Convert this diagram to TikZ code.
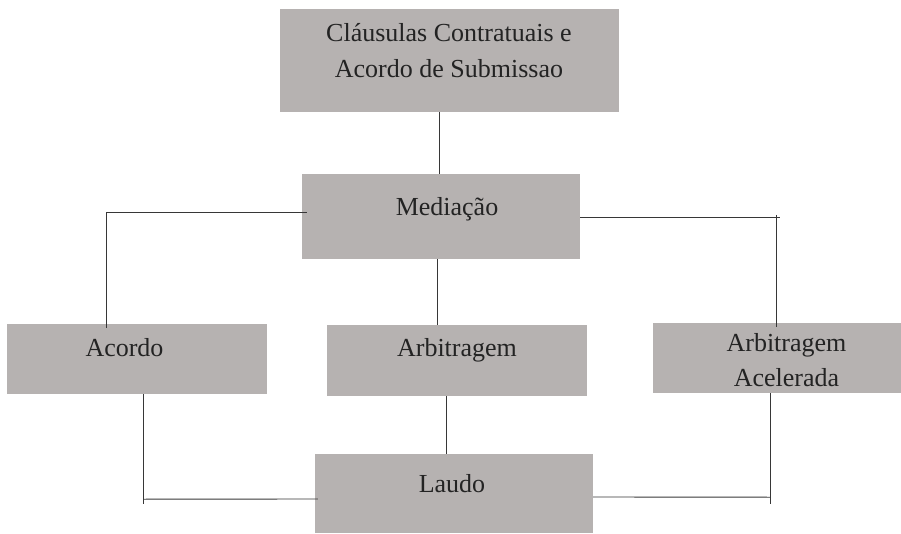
\documentclass[tikz,border=0pt]{standalone}
\usepackage{fontspec}
\setmainfont{Liberation Serif}
\usetikzlibrary{calc}
\definecolor{boxgray}{RGB}{182,178,177}
\definecolor{linegray}{RGB}{55,55,55}
\definecolor{textgray}{RGB}{35,35,35}
\begin{document}
\begin{tikzpicture}[x=1pt,y=-1pt,
  box/.style={fill=boxgray,draw=none,inner sep=0pt,rectangle},
  lbl/.style={anchor=base,inner sep=0pt,text=textgray,
    font=\fontsize{26}{35.5}\selectfont},
  conn/.style={draw=linegray,line width=0.9pt}]
\useasboundingbox (0,0) rectangle (901,534);

% boxes
\node[box,minimum width=339pt,minimum height=103pt] (top)    at (449.5,60.5) {};
\node[box,minimum width=278pt,minimum height=85pt]  (med)    at (441,216.5) {};
\node[box,minimum width=260pt,minimum height=70pt]  (acordo) at (137,359) {};
\node[box,minimum width=260pt,minimum height=71pt]  (arb)    at (457,360.5) {};
\node[box,minimum width=248pt,minimum height=70pt]  (acel)   at (777,358) {};
\node[box,minimum width=278pt,minimum height=79pt]  (laudo)  at (454,493.5) {};

% labels
\node[lbl] (topT) at (449,42) {\renewcommand\arraystretch{1}\setlength\tabcolsep{0pt}%
  \begin{tabular}[t]{c}Cláusulas Contratuais e\\Acordo de Submissao\end{tabular}};
\node[lbl] (medT)    at (447,216) {Mediação};
\node[lbl] (acordoT) at (124.5,356) {Acordo};
\node[lbl] (arbT)    at (457,356) {Arbitragem};
\node[lbl] (acelT)   at (786.5,351) {\renewcommand\arraystretch{1}\setlength\tabcolsep{0pt}%
  \begin{tabular}[t]{c}Arbitragem\\Acelerada\end{tabular}};
\node[lbl] (laudoT)  at (452,492) {Laudo};

% connectors
\draw[conn] ($(top.south)+(-10.5,0)$) -- ($(med.north)+(-2,0)$);
\draw[conn] ($(med.west)+(5,-4.5)$) -| ($(acordo.north)+(-31,4)$);
\draw[conn] ($(med.east)+(0,0.5)$) -- ($(med.east)+(200,0.5)$);
\draw[conn] ($(acel.north)+(-1,-108)$) -- ($(acel.north)+(-1,4)$);
\draw[conn] ($(med.south)+(-4,0)$) -- ($(arb.north)+(-20,0)$);
\draw[conn] ($(arb.south)+(-11,0)$) -- ($(laudo.north)+(-8,0)$);
\draw[conn] ($(acordo.south)+(6,0)$) -- ($(acordo.south)+(6,110)$);
\draw[conn] ($(acordo.south)+(6,105)$) -- ($(laudo.west)+(3,5.5)$);
\draw[conn] ($(acel.south)+(-7,0)$) -- ($(acel.south)+(-7,111)$);
\draw[conn] ($(laudo.east)+(0,3.5)$) -- ($(acel.south)+(-7,104)$);
\end{tikzpicture}
\end{document}
